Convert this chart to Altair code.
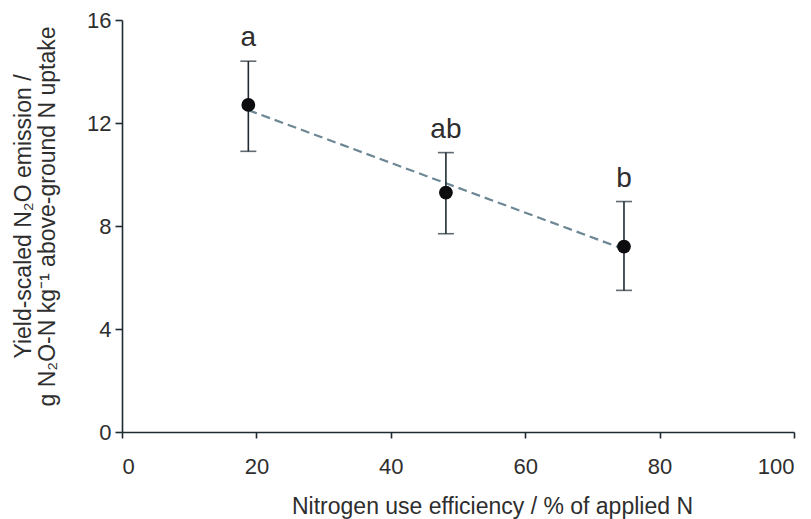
import altair as alt
import pandas as pd

# Data
nue = [18.8, 48.2, 74.7]
emission = [12.7, 9.3, 7.2]
err_low = [10.9, 7.7, 5.5]
err_high = [14.4, 10.85, 8.95]
letters = ["a", "ab", "b"]

fit_x = [18.8, 74.7]
fit_y = [12.5, 7.1]

df = pd.DataFrame({"nue": nue, "em": emission, "lo": err_low, "hi": err_high, "lab": letters})
fit = pd.DataFrame({"nue": fit_x, "em": fit_y})

dark = "#1e2b33"
txt = "#2e2e2e"

xs = alt.Scale(domain=[0, 100], nice=False)
ys = alt.Scale(domain=[0, 16], nice=False)

xax = alt.Axis(values=[0, 20, 40, 60, 80, 100], grid=False, tickSize=6, labelPadding=18,
               title="Nitrogen use efficiency / % of applied N", titleX=370, titleY=81,
               titleAnchor="start", titleAlign="center", titleBaseline="alphabetic",
               titleFontSize=23)
yax = alt.Axis(values=[0, 4, 8, 12, 16], grid=False, tickSize=7, labelPadding=4,
               title=["Yield-scaled N₂O emission /", "g N₂O-N kg⁻¹ above-ground N uptake"],
               titleX=-99, titleY=196, titleAngle=-90, titleBaseline="middle",
               titleAlign="center", titleLineHeight=24, titleAnchor="start",
               titleFontSize=23)

base = alt.Chart(df)

line = alt.Chart(fit).mark_line(color="#6d8795", strokeDash=[9, 5], strokeWidth=2.2).encode(
    x=alt.X("nue:Q", scale=xs, axis=xax),
    y=alt.Y("em:Q", scale=ys, axis=yax),
)

rules = base.mark_rule(color=dark, strokeWidth=1.6).encode(
    x=alt.X("nue:Q", scale=xs), y=alt.Y("lo:Q", scale=ys), y2="hi:Q")
caps_hi = base.mark_tick(color=dark, orient="horizontal", size=16, thickness=1.6).encode(
    x=alt.X("nue:Q", scale=xs), y=alt.Y("hi:Q", scale=ys))
caps_lo = base.mark_tick(color=dark, orient="horizontal", size=16, thickness=1.6).encode(
    x=alt.X("nue:Q", scale=xs), y=alt.Y("lo:Q", scale=ys))
pts = base.mark_circle(color="#0d0d10", opacity=1, size=190).encode(
    x=alt.X("nue:Q", scale=xs), y=alt.Y("em:Q", scale=ys))
labs = base.mark_text(fontSize=28, color=txt, baseline="alphabetic", dy=-15,
                      font="Liberation Sans").encode(
    x=alt.X("nue:Q", scale=xs), y=alt.Y("hi:Q", scale=ys), text="lab:N")

chart = alt.layer(line, rules, caps_hi, caps_lo, pts, labs).properties(
    width=672, height=412,
    autosize=alt.AutoSizeParams(type="none"),
    padding={"left": 114, "top": 12, "right": 9, "bottom": 95},
    background="white",
).configure_view(stroke=None).configure_axis(
    domainColor=dark, tickColor=dark, domainWidth=1.6, tickWidth=1.6,
    labelFont="Liberation Sans", titleFont="Liberation Sans",
    labelFontSize=22, titleFontSize=23, labelColor=txt, titleColor=txt,
    titleFontWeight="normal",
)

chart.save("out.html", embed_options={"renderer": "svg", "actions": False})
